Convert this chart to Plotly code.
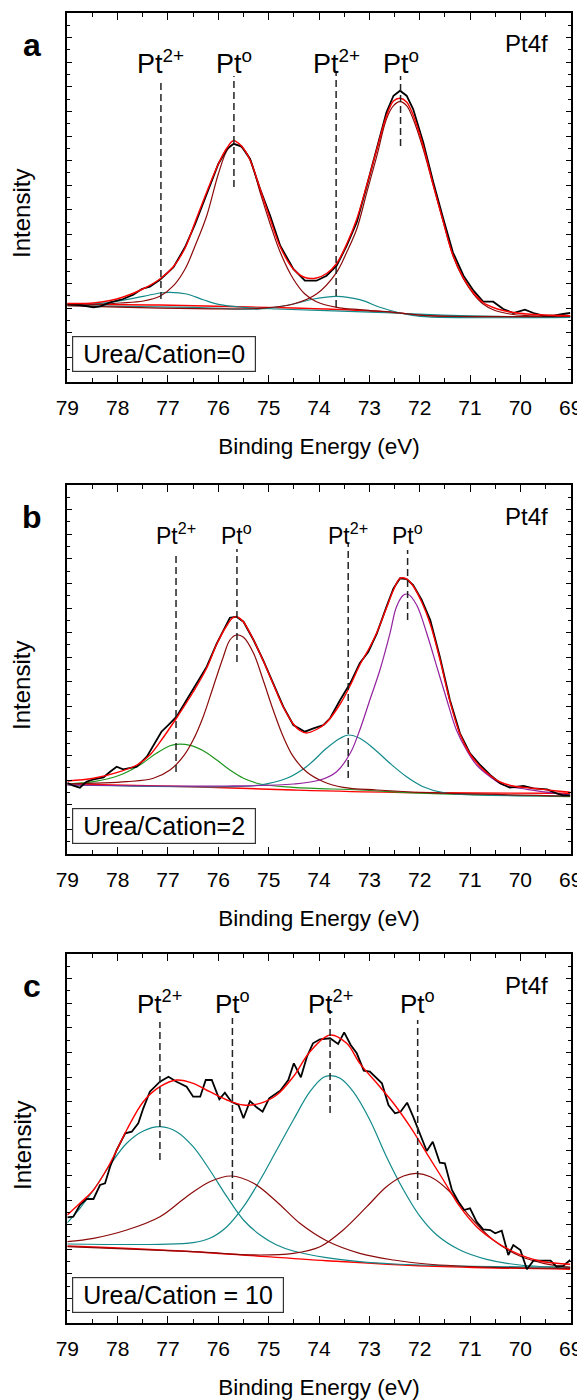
import plotly.graph_objects as go

FONT = "Liberation Sans, Arial, sans-serif"
RED = "#FF0000"
BROWN = "#8B0A0A"
TEAL = "#138A8A"
PURPLE = "#93209E"
GREEN = "#21961F"

# ---------------- Panel a : Urea/Cation = 0 ----------------
a_data_E = [79.00, 78.75, 78.48, 78.35, 78.15, 77.89, 77.69, 77.52, 77.36, 77.16, 76.89, 76.66, 76.46, 76.23,
            76.00, 75.83, 75.70, 75.54, 75.37, 75.17, 74.97, 74.77, 74.51, 74.28, 74.05, 73.85, 73.65, 73.45,
            73.25, 73.05, 72.85, 72.66, 72.52, 72.39, 72.26, 72.13, 71.93, 71.73, 71.53, 71.34, 71.13, 70.93,
            70.74, 70.54, 70.34, 70.14, 69.91, 69.74, 69.54, 69.34, 69.15, 69.01]
a_data = [78.0, 77.0, 74.7, 75.7, 79.7, 83.0, 87.3, 93.0, 95.3, 102.3, 114.7, 135.0, 158.0, 187.0,
          218.0, 233.0, 238.0, 235.7, 223.0, 193.0, 166.3, 136.3, 113.0, 101.3, 101.3, 106.3, 116.3, 136.3,
          159.7, 196.3, 233.0, 269.7, 286.3, 291.3, 286.3, 273.0, 239.7, 199.7, 163.0, 129.7, 106.3, 91.3,
          80.3, 80.3, 73.0, 69.0, 72.3, 69.0, 66.3, 66.3, 68.0, 69.0]
a_fit_E = [79.00, 78.48, 78.15, 77.89, 77.52, 77.16, 76.89, 76.66, 76.46, 76.23, 76.00, 75.83, 75.70, 75.54,
           75.37, 75.17, 74.97, 74.77, 74.51, 74.28, 74.05, 73.85, 73.65, 73.45, 73.25, 73.05, 72.85, 72.66,
           72.52, 72.39, 72.26, 72.13, 71.93, 71.73, 71.53, 71.34, 71.13, 70.93, 70.74, 70.54, 70.34, 70.14,
           69.87, 69.54, 69.01]
a_fit = [78.5, 79.0, 81.5, 85.0, 92.5, 103.0, 115.5, 134.0, 160.0, 190.0, 218.0, 234.0, 241.3, 236.0,
         222.0, 193.0, 163.0, 135.0, 113.0, 104.5, 104.0, 108.5, 118.5, 138.0, 163.0, 197.0, 233.0, 266.0,
         281.0, 283.7, 280.0, 267.0, 236.0, 197.0, 160.0, 127.0, 104.0, 89.0, 79.5, 74.5, 71.5, 69.5,
         68.0, 67.0, 66.3]
a_pt0_52_E = [79.00, 78.48, 77.95, 77.49, 77.16, 76.89, 76.66, 76.46, 76.23, 76.00, 75.83, 75.70, 75.54,
              75.37, 75.17, 74.97, 74.77, 74.51, 74.28, 74.05, 73.65, 73.19, 72.52, 71.86, 69.01]
a_pt0_52 = [77.0, 77.5, 79.0, 81.0, 85.7, 96.3, 113.0, 136.3, 166.3, 208.0, 231.3, 238.0, 234.7,
            223.0, 189.7, 158.0, 129.7, 103.0, 88.0, 80.3, 74.7, 72.3, 69.7, 66.3, 65.7]
a_pt0_72_E = [79.00, 75.17, 74.51, 74.05, 73.65, 73.45, 73.25, 73.05, 72.85, 72.66, 72.52, 72.39, 72.26,
              72.13, 71.93, 71.73, 71.53, 71.34, 71.13, 70.93, 70.74, 70.54, 70.21, 69.87, 69.01]
a_pt0_72 = [76.3, 73.7, 78.0, 88.0, 109.7, 129.7, 153.0, 189.7, 226.3, 263.0, 276.3, 280.3, 276.3,
            263.0, 233.0, 196.3, 159.7, 126.3, 103.0, 88.0, 78.0, 72.3, 68.0, 66.3, 65.7]
a_pt2_52_E = [79.00, 78.15, 77.49, 77.16, 76.96, 76.63, 76.30, 75.97, 75.50, 74.84, 73.85, 72.52, 71.20, 69.01]
a_pt2_52 = [77.0, 79.7, 85.7, 89.0, 89.7, 88.0, 82.3, 77.3, 74.7, 73.0, 71.3, 69.0, 66.3, 64.7]
a_pt2_72_E = [79.00, 76.50, 75.17, 74.51, 74.11, 73.65, 73.19, 72.79, 72.39, 71.99, 69.01]
a_pt2_72 = [76.3, 74.7, 73.0, 78.0, 83.0, 85.7, 82.3, 74.7, 69.0, 65.7, 64.7]
a_bg_E = [79.00, 77.16, 75.83, 74.51, 73.85, 72.52, 71.86, 69.01]
a_bg = [77.5, 77.0, 75.5, 74.0, 73.0, 69.5, 66.5, 65.5]
a_peaks = [77.14, 75.69, 73.66, 72.38]
a_mark_top = [303, 306, 311, 306]
a_mark_bot = [83, 195, 75, 236]
a_peak_names = ["Pt<sup>2+</sup>", "Pt<sup>o</sup>", "Pt<sup>2+</sup>", "Pt<sup>o</sup>"]

# ---------------- Panel b : Urea/Cation = 2 ----------------
b_data_E = [79.00, 78.88, 78.75, 78.62, 78.48, 78.28, 78.15, 78.02, 77.89, 77.75, 77.62, 77.42, 77.26, 77.13,
            76.96, 76.83, 76.63, 76.43, 76.23, 76.03, 75.87, 75.77, 75.64, 75.50, 75.30, 75.11, 74.91, 74.71,
            74.51, 74.28, 74.11, 73.91, 73.78, 73.58, 73.38, 73.19, 73.02, 72.85, 72.66, 72.52, 72.39, 72.26,
            72.13, 71.96, 71.79, 71.60, 71.40, 71.20, 71.00, 70.80, 70.60, 70.40, 70.21, 69.94, 69.74, 69.47,
            69.28, 69.15, 69.01]
b_data = [71.3, 68.3, 66.3, 72.3, 74.7, 76.7, 82.3, 87.3, 84.7, 85.7, 87.3, 97.3, 110.7, 122.3,
          130.7, 137.3, 154.0, 170.7, 187.3, 210.7, 227.3, 236.3, 237.3, 232.3, 214.0, 194.0, 170.7, 147.3,
          129.0, 122.3, 125.7, 129.0, 135.7, 154.0, 170.7, 190.7, 202.3, 220.7, 247.3, 265.7, 275.7, 275.0,
          269.0, 254.0, 234.0, 197.3, 154.0, 120.7, 100.7, 89.0, 79.0, 70.7, 66.3, 68.0, 65.7, 64.7,
          60.7, 58.7, 58.7]
b_fit_E = [79.00, 78.48, 78.02, 77.62, 77.36, 77.13, 76.83, 76.50, 76.23, 76.03, 75.83, 75.70, 75.60, 75.50,
           75.30, 75.11, 74.91, 74.71, 74.51, 74.38, 74.25, 74.05, 73.85, 73.58, 73.38, 73.19, 72.99, 72.85,
           72.66, 72.52, 72.39, 72.26, 72.13, 71.96, 71.79, 71.60, 71.40, 71.20, 71.00, 70.80, 70.60, 70.40,
           70.14, 69.74, 69.28, 69.01]
b_fit = [73.0, 75.7, 81.3, 89.0, 99.0, 114.0, 136.0, 162.0, 186.0, 210.0, 228.5, 236.7, 236.5, 232.0,
         214.0, 193.5, 170.0, 147.0, 130.0, 123.5, 121.0, 124.5, 131.5, 150.0, 168.5, 189.0, 207.0, 221.5,
         246.0, 264.0, 275.7, 275.0, 268.0, 252.0, 230.0, 195.0, 153.0, 120.0, 100.0, 87.5, 78.5, 72.0,
         68.0, 65.7, 63.0, 61.7]
b_pt0_52_E = [79.00, 77.82, 77.29, 76.96, 76.70, 76.50, 76.30, 76.10, 75.90, 75.77, 75.64, 75.50, 75.30,
              75.11, 74.91, 74.71, 74.51, 74.25, 73.91, 73.52, 72.85, 71.86, 69.01]
b_pt0_52 = [70.0, 72.3, 75.7, 84.0, 97.3, 114.0, 137.3, 167.3, 197.3, 214.0, 219.0, 216.7, 200.7,
            174.0, 144.0, 117.3, 97.3, 82.3, 72.3, 66.7, 64.0, 61.3, 58.0]
b_pt0_72_E = [79.00, 75.83, 74.51, 73.98, 73.65, 73.38, 73.19, 72.99, 72.79, 72.59, 72.46, 72.32, 72.23,
              72.06, 71.86, 71.66, 71.46, 71.27, 71.07, 70.87, 70.60, 70.34, 69.87, 69.01]
b_pt0_72 = [69.0, 68.0, 70.0, 74.0, 82.3, 100.7, 124.0, 154.0, 184.0, 220.7, 247.3, 259.0, 259.7,
            249.0, 220.7, 187.3, 154.0, 124.0, 104.0, 89.0, 77.3, 69.0, 64.7, 59.0]
b_pt2_52_E = [79.00, 78.48, 77.95, 77.56, 77.23, 76.96, 76.83, 76.56, 76.30, 76.03, 75.77, 75.50, 75.17,
              74.51, 73.19, 71.86, 69.01]
b_pt2_52 = [70.0, 72.3, 79.0, 89.0, 100.7, 108.3, 109.7, 108.7, 103.3, 94.0, 84.0, 75.7, 70.0,
            66.7, 64.0, 60.7, 57.3]
b_pt2_72_E = [79.00, 75.83, 75.17, 74.64, 74.25, 73.85, 73.58, 73.42, 73.19, 72.92, 72.59, 72.26, 71.93,
              71.53, 70.87, 69.01]
b_pt2_72 = [69.0, 67.3, 69.0, 75.7, 87.3, 105.7, 115.7, 119.0, 115.7, 105.7, 90.7, 77.3, 67.3,
            61.3, 59.0, 58.0]
b_bg_E = [79.00, 76.50, 74.51, 72.52, 69.01]
b_bg = [70.0, 67.3, 64.0, 61.7, 60.7]
b_peaks = [76.84, 75.63, 73.42, 72.24]
b_mark_top = [302, 305, 311, 304]
b_mark_bot = [82, 192, 76, 234]
b_peak_names = ["Pt<sup>2+</sup>", "Pt<sup>o</sup>", "Pt<sup>2+</sup>", "Pt<sup>o</sup>"]

# ---------------- Panel c : Urea/Cation = 10 ----------------
c_data_E = [79.00, 78.88, 78.75, 78.62, 78.48, 78.35, 78.25, 78.15, 78.02, 77.85, 77.72, 77.59, 77.49, 77.36,
            77.16, 76.99, 76.83, 76.63, 76.50, 76.36, 76.25, 76.13, 75.98, 75.87, 75.74, 75.60, 75.50, 75.37,
            75.24, 75.12, 74.99, 74.77, 74.61, 74.50, 74.36, 74.24, 74.12, 73.98, 73.78, 73.62, 73.50, 73.37,
            73.25, 73.11, 72.99, 72.75, 72.62, 72.49, 72.38, 72.25, 72.13, 71.99, 71.86, 71.74, 71.60, 71.50,
            71.36, 71.23, 71.12, 71.00, 70.87, 70.74, 70.60, 70.50, 70.37, 70.24, 70.14, 70.00, 69.87, 69.74,
            69.57, 69.40, 69.28, 69.15, 69.01]
c_data = [105.7, 106.3, 118.0, 124.0, 124.0, 138.0, 139.7, 156.3, 173.0, 189.7, 191.3, 199.7, 214.7, 231.3,
          241.3, 246.3, 241.3, 236.3, 226.3, 226.3, 243.0, 243.0, 223.7, 230.3, 221.3, 218.0, 204.7, 222.0,
          215.7, 211.3, 224.7, 232.3, 243.0, 259.7, 245.7, 266.3, 279.7, 283.7, 284.7, 279.0, 290.7, 278.0,
          269.7, 252.3, 251.3, 239.7, 218.0, 209.7, 211.3, 220.3, 206.3, 188.0, 172.0, 181.3, 160.3, 159.7,
          133.0, 121.3, 113.0, 114.7, 101.3, 93.7, 93.0, 89.7, 92.3, 68.0, 78.0, 73.0, 53.7, 62.3,
          62.3, 62.3, 56.3, 57.0, 63.0]
c_fit_E = [79.00, 78.75, 78.48, 78.15, 77.82, 77.49, 77.16, 76.83, 76.50, 76.17, 75.83, 75.50, 75.17, 74.84,
           74.51, 74.18, 73.78, 73.45, 73.19, 72.85, 72.52, 72.19, 71.86, 71.53, 71.20, 70.87, 70.54, 70.21,
           69.87, 69.54, 69.01]
c_fit = [108.0, 119.7, 133.0, 159.7, 193.0, 221.3, 236.3, 243.0, 239.7, 231.3, 223.0, 218.0, 219.7, 228.0,
         246.3, 271.3, 288.0, 279.7, 259.7, 239.7, 219.7, 196.3, 169.7, 143.0, 116.3, 96.3, 83.0, 73.0,
         65.7, 61.3, 58.7]
c_pt2_52_E = [79.00, 78.75, 78.48, 78.15, 77.82, 77.49, 77.15, 76.83, 76.50, 76.17, 75.83, 75.50, 75.17,
              74.84, 74.51, 73.85, 73.19, 72.52, 71.20, 69.01]
c_pt2_52 = [100.3, 114.7, 133.0, 158.0, 179.7, 192.0, 196.3, 191.3, 176.3, 153.0, 126.3, 103.0, 88.0,
            78.0, 72.0, 65.3, 61.3, 59.0, 57.0, 55.7]
c_pt2_72_E = [79.00, 77.16, 76.50, 76.17, 75.83, 75.50, 75.17, 74.84, 74.51, 74.18, 73.91, 73.77, 73.58,
              73.32, 72.99, 72.66, 72.32, 71.99, 71.66, 71.20, 70.67, 70.01, 69.01]
c_pt2_72 = [79.0, 78.7, 80.3, 84.7, 96.3, 116.3, 143.0, 173.0, 203.0, 231.3, 245.7, 247.3, 244.7,
            231.3, 203.0, 166.3, 133.0, 106.3, 88.0, 73.0, 63.7, 58.0, 55.7]
c_pt0_52_E = [79.00, 78.48, 77.82, 77.16, 76.63, 76.17, 75.74, 75.30, 74.84, 74.38, 73.85, 73.19, 72.52,
              71.86, 70.54, 69.01]
c_pt0_52 = [81.3, 84.7, 93.0, 106.3, 126.3, 141.3, 147.0, 139.7, 121.3, 99.7, 82.3, 69.7, 63.0,
            59.0, 55.7, 54.7]
c_pt0_72_E = [79.00, 76.50, 75.17, 74.51, 73.98, 73.52, 73.05, 72.66, 72.32, 72.06, 71.79, 71.40, 71.00,
              70.54, 70.01, 69.54, 69.01]
c_pt0_72 = [76.3, 71.3, 68.0, 69.7, 76.3, 93.0, 116.3, 136.3, 147.0, 149.7, 146.3, 131.3, 106.3,
            83.0, 67.0, 59.7, 55.7]
c_bg_E = [79.00, 76.50, 73.85, 71.86, 69.01]
c_bg = [77.0, 71.3, 62.3, 57.0, 53.7]
c_peaks = [77.16, 75.72, 73.78, 72.04]
c_mark_top = [301, 305, 313, 303]
c_mark_bot = [163, 123, 210, 123]
c_peak_names = ["Pt<sup>2+</sup>", "Pt<sup>o</sup>", "Pt<sup>2+</sup>", "Pt<sup>o</sup>"]

panel_letters = ["a", "b", "c"]
panel_ratios = ["Urea/Cation=0", "Urea/Cation=2", "Urea/Cation = 10"]
x_ticks = [79, 78, 77, 76, 75, 74, 73, 72, 71, 70, 69]

panels = [
    dict(data=(a_data_E, a_data), fit=(a_fit_E, a_fit), bg=(a_bg_E, a_bg),
         comps=[(a_pt2_52_E, a_pt2_52, TEAL), (a_pt2_72_E, a_pt2_72, TEAL),
                (a_pt0_52_E, a_pt0_52, BROWN), (a_pt0_72_E, a_pt0_72, BROWN)],
         peaks=a_peaks, top=a_mark_top, bot=a_mark_bot, names=a_peak_names, lsize=27),
    dict(data=(b_data_E, b_data), fit=(b_fit_E, b_fit), bg=(b_bg_E, b_bg),
         comps=[(b_pt2_52_E, b_pt2_52, GREEN), (b_pt2_72_E, b_pt2_72, TEAL),
                (b_pt0_52_E, b_pt0_52, BROWN), (b_pt0_72_E, b_pt0_72, PURPLE)],
         peaks=b_peaks, top=b_mark_top, bot=b_mark_bot, names=b_peak_names, lsize=23),
    dict(data=(c_data_E, c_data), fit=(c_fit_E, c_fit), bg=(c_bg_E, c_bg),
         comps=[(c_pt2_52_E, c_pt2_52, TEAL), (c_pt2_72_E, c_pt2_72, TEAL),
                (c_pt0_52_E, c_pt0_52, BROWN), (c_pt0_72_E, c_pt0_72, BROWN)],
         peaks=c_peaks, top=c_mark_top, bot=c_mark_bot, names=c_peak_names, lsize=26),
]

# page offset: the browser's default body margin (8 px) shifts the figure
OFF = 8.0
H = 1400.0
W = 585.0
panel_tops = [13 - OFF, 485 - OFF, 954 - OFF]
panel_h = 369
x_dom = [(67.3 - OFF) / W, (570.7 - OFF) / W]
ytitle_centers = [214 - OFF, 686 - OFF, 1146 - OFF]

fig = go.Figure()
annotations = []
layout_axes = {}

for i, p in enumerate(panels):
    n = "" if i == 0 else str(i + 1)
    xa, ya = "x" + n, "y" + n
    top = panel_tops[i]
    dom = [1 - (top + panel_h) / H, 1 - top / H]

    fig.add_trace(go.Scatter(x=p["bg"][0], y=p["bg"][1], mode="lines", xaxis=xa, yaxis=ya,
                             line=dict(color=RED, width=1.4, shape="spline"), hoverinfo="skip"))
    for (ex, ey, col) in p["comps"]:
        fig.add_trace(go.Scatter(x=ex, y=ey, mode="lines", xaxis=xa, yaxis=ya,
                                 line=dict(color=col, width=1.2, shape="spline"), hoverinfo="skip"))
    fig.add_trace(go.Scatter(x=p["data"][0], y=p["data"][1], mode="lines", xaxis=xa, yaxis=ya,
                             line=dict(color="black", width=1.8)))
    fig.add_trace(go.Scatter(x=p["fit"][0], y=p["fit"][1], mode="lines", xaxis=xa, yaxis=ya,
                             line=dict(color=RED, width=1.4, shape="spline")))
    for e, t, b in zip(p["peaks"], p["top"], p["bot"]):
        fig.add_trace(go.Scatter(x=[e, e], y=[b, t], mode="lines", xaxis=xa, yaxis=ya,
                                 line=dict(color="#222222", width=1.5, dash="7px,4px"), hoverinfo="skip"))

    layout_axes["xaxis" + n] = dict(
        domain=x_dom, anchor=ya, range=[79, 69], tickmode="array", tickvals=x_ticks,
        ticktext=[str(v) for v in x_ticks], ticks="inside", ticklen=7, tickwidth=1.3, tickcolor="black",
        minor=dict(dtick=0.5, tick0=69, ticks="inside", ticklen=4, tickwidth=1.3, tickcolor="black"),
        showline=True, linewidth=1.5, linecolor="black", mirror="ticks", showgrid=False, zeroline=False,
        tickfont=dict(size=21, family=FONT, color="black"), ticklabelstandoff=6, automargin=False,
        title=dict(text="Binding Energy (eV)", font=dict(size=22.5, family=FONT, color="black"), standoff=20),
    )
    layout_axes["yaxis" + n] = dict(
        domain=dom, anchor=xa, range=[0, 369], showticklabels=False, ticks="inside", tick0=0, dtick=24.6,
        ticklen=5, tickwidth=1.2, tickcolor="black", automargin=False,
        minor=dict(dtick=12.3, ticks="inside", ticklen=3, tickwidth=1.2, tickcolor="black"),
        showline=True, linewidth=1.5, linecolor="black", mirror="ticks", showgrid=False, zeroline=False,
    )

    # y-axis title
    annotations.append(dict(x=(22 - OFF) / W, xref="paper", y=1 - ytitle_centers[i] / H, yref="paper",
                            text="Intensity", textangle=-90, showarrow=False, xanchor="center",
                            yanchor="middle", font=dict(size=24, family=FONT, color="black")))
    for e, name in zip(p["peaks"], p["names"]):
        annotations.append(dict(x=e, xref=xa, y=0.868, yref=ya + " domain", text=name, showarrow=False,
                                xanchor="center", yanchor="middle",
                                font=dict(size=p["lsize"], family=FONT, color="black")))
    annotations.append(dict(x=0.913, xref=xa + " domain", y=1 - 31 / panel_h, yref=ya + " domain",
                            text="Pt4f", showarrow=False, xanchor="center", yanchor="middle",
                            font=dict(size=24, family=FONT, color="black")))
    annotations.append(dict(x=(32 - OFF) / W, xref="paper", y=1 - (top + 32) / H, yref="paper",
                            text="<b>" + panel_letters[i] + "</b>", showarrow=False,
                            xanchor="center", yanchor="middle",
                            font=dict(size=32, family=FONT, color="black")))
    annotations.append(dict(x=0.009, xref=xa + " domain", y=10 / panel_h, yref=ya + " domain",
                            text="\u00a0" + panel_ratios[i] + "\u00a0", showarrow=False,
                            xanchor="left", yanchor="bottom",
                            bordercolor="#333333", borderwidth=1.2, borderpad=3, bgcolor="white",
                            font=dict(size=25, family=FONT, color="black")))

fig.update_layout(
    width=585, height=1400, margin=dict(l=0, r=0, t=0, b=0, autoexpand=False),
    paper_bgcolor="white", plot_bgcolor="white", showlegend=False,
    font=dict(family=FONT, color="black"),
    annotations=annotations, **layout_axes,
)

fig.write_html("out.html")
